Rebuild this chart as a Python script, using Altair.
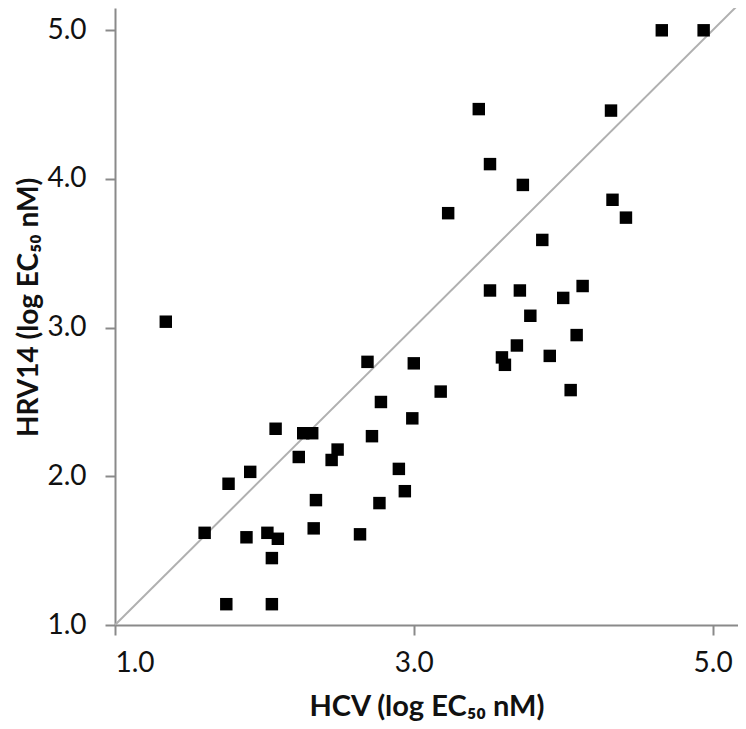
import altair as alt
import pandas as pd

hcv = [1.34, 1.60, 1.76, 1.745, 1.905, 1.88, 2.02, 2.09, 2.05, 2.05,
       2.075, 2.23, 2.26, 2.32, 2.33, 2.345, 2.45, 2.49, 2.64, 2.69,
       2.72, 2.77, 2.78, 2.90, 2.94, 2.99, 3.00, 3.18, 3.23, 3.435,
       3.51, 3.51, 3.59, 3.61, 3.69, 3.71, 3.73, 3.78, 3.86, 3.91,
       4.00, 4.05, 4.09, 4.13, 4.32, 4.33, 4.42, 4.66, 4.94]
hrv14 = [3.04, 1.62, 1.95, 1.14, 2.03, 1.59, 1.62, 1.58, 1.45, 1.14,
         2.32, 2.13, 2.29, 2.29, 1.65, 1.84, 2.11, 2.18, 1.61, 2.77,
         2.27, 1.82, 2.50, 2.05, 1.90, 2.39, 2.76, 2.57, 3.77, 4.47,
         4.10, 3.25, 2.80, 2.75, 2.88, 3.25, 3.96, 3.08, 3.59, 2.81,
         3.20, 2.58, 2.95, 3.28, 4.46, 3.86, 3.74, 5.00, 5.00]
identity_line = [1.0, 5.2]

x_ticks = [1.0, 3.0, 5.0]
y_ticks = [1.0, 2.0, 3.0, 4.0, 5.0]

pts = pd.DataFrame({"hcv": hcv, "hrv14": hrv14})
diag = pd.DataFrame({"hcv": identity_line, "hrv14": identity_line})

FONT = "Lato"
AXIS_COLOR = "#8a8a8a"

x_scale = alt.Scale(domain=[1.0, 5.17], nice=False, zero=False)
y_scale = alt.Scale(domain=[1.0, 5.15], nice=False, zero=False)

x_axis = alt.Axis(
    title="HCV (log EC₅₀ nM)", values=x_ticks, format=".1f", grid=False,
    domainColor=AXIS_COLOR, domainWidth=2, tickColor=AXIS_COLOR, tickWidth=2,
    tickSize=10, labelPadding=14, labelFont=FONT, labelFontSize=28,
    labelColor="#111111", titleFont=FONT, titleFontSize=29, titleFontWeight="bold",
    titleColor="#111111", titlePadding=15,
)
y_axis = alt.Axis(
    title="HRV14 (log EC₅₀ nM)", values=y_ticks, format=".1f", grid=False,
    domainColor=AXIS_COLOR, domainWidth=2, tickColor=AXIS_COLOR, tickWidth=2,
    tickSize=10, labelPadding=19, labelFont=FONT, labelFontSize=28,
    labelColor="#111111", titleFont=FONT, titleFontSize=28, titleFontWeight="bold",
    titleColor="#111111", titlePadding=3, titleY=299,
)

line = alt.Chart(diag).mark_line(color="#b0b0b0", strokeWidth=2, clip=True).encode(
    x=alt.X("hcv:Q", scale=x_scale, axis=x_axis),
    y=alt.Y("hrv14:Q", scale=y_scale, axis=y_axis),
)

points = alt.Chart(pts).mark_point(
    shape="square", filled=True, color="#000000", size=155, opacity=1
).encode(
    x=alt.X("hcv:Q", scale=x_scale),
    y=alt.Y("hrv14:Q", scale=y_scale),
)

chart = (line + points).properties(
    width=623, height=617,
    autosize=alt.AutoSizeParams(type="none"),
    padding={"left": 107, "top": 0, "right": 0, "bottom": 96},
).configure_view(stroke=None)

chart.save("out.html", embed_options={"renderer": "svg", "actions": False})
